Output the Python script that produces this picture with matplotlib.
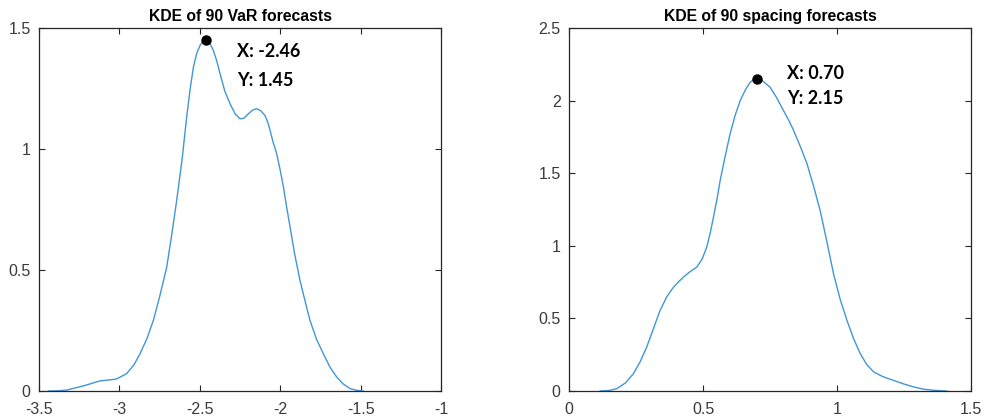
import matplotlib.pyplot as plt
import numpy as np

# values
var_x = [-3.442, -3.38, -3.328, -3.22, -3.12, -3.06, -3.017, -2.955, -2.91, -2.872, -2.83,
         -2.789, -2.75, -2.706, -2.675, -2.644, -2.61, -2.582, -2.56, -2.540, -2.52,
         -2.499, -2.48, -2.46, -2.44, -2.416, -2.395, -2.374, -2.345, -2.312, -2.28,
         -2.25, -2.225, -2.198, -2.17, -2.146, -2.12, -2.095, -2.078, -2.063, -2.045,
         -2.022, -2.0, -1.98, -1.96, -1.939, -1.91, -1.877, -1.845, -1.815, -1.775,
         -1.732, -1.69, -1.649, -1.61, -1.566, -1.525, -1.483]
var_y = [0.0, 0.001, 0.004, 0.022, 0.042, 0.046, 0.050, 0.072, 0.108, 0.154, 0.215,
         0.292, 0.39, 0.512, 0.645, 0.788, 0.96, 1.132, 1.25, 1.339, 1.395,
         1.428, 1.447, 1.45, 1.44, 1.408, 1.365, 1.311, 1.24, 1.187, 1.145,
         1.125, 1.128, 1.146, 1.162, 1.167, 1.158, 1.139, 1.112, 1.077, 1.03,
         0.981, 0.912, 0.843, 0.76, 0.678, 0.565, 0.457, 0.37, 0.292, 0.215,
         0.154, 0.098, 0.058, 0.03, 0.01, 0.003, 0.0]

spc_x = [0.116, 0.15, 0.178, 0.21, 0.240, 0.265, 0.29, 0.315, 0.340, 0.365, 0.39,
         0.41, 0.427, 0.45, 0.477, 0.497, 0.514, 0.527, 0.539, 0.552, 0.564, 0.583,
         0.601, 0.62, 0.639, 0.658, 0.676, 0.69, 0.70, 0.72, 0.750, 0.775, 0.8,
         0.82, 0.838, 0.863, 0.888, 0.912, 0.937, 0.962, 0.987, 1.012, 1.037, 1.062,
         1.087, 1.11, 1.137, 1.17, 1.211, 1.25, 1.286, 1.325, 1.361, 1.41]
spc_y = [0.0, 0.004, 0.016, 0.055, 0.119, 0.2, 0.303, 0.43, 0.556, 0.65, 0.716,
         0.755, 0.785, 0.82, 0.854, 0.91, 0.992, 1.09, 1.198, 1.32, 1.451, 1.62,
         1.772, 1.9, 2.002, 2.075, 2.128, 2.145, 2.15, 2.14, 2.094, 2.02, 1.933,
         1.865, 1.795, 1.685, 1.566, 1.415, 1.244, 1.03, 0.808, 0.63, 0.487, 0.36,
         0.257, 0.185, 0.131, 0.1, 0.073, 0.048, 0.028, 0.012, 0.005, 0.0]

peaks = [(-2.46, 1.45), (0.70, 2.15)]
titles = ['KDE of 90 VaR forecasts', 'KDE of 90 spacing forecasts']
xlims = [(-3.5, -1), (0, 1.5)]
ylims = [(0, 1.5), (0, 2.5)]
xticks = [np.arange(-3.5, -0.9, 0.5), np.arange(0, 1.6, 0.5)]
yticks = [np.arange(0, 1.6, 0.5), np.arange(0, 2.6, 0.5)]
xlabels = [['-3.5', '-3', '-2.5', '-2', '-1.5', '-1'], ['0', '0.5', '1', '1.5']]
ylabels = [['0', '0.5', '1', '1.5'], ['0', '0.5', '1', '1.5', '2', '2.5']]
label_pos = [(-2.27, 1.402, 1.282), (0.815, 2.186, 2.013)]

plt.rcParams['font.family'] = ['Liberation Sans', 'DejaVu Sans']
fig = plt.figure(figsize=(9.86, 4.2), dpi=100)
axes = [fig.add_axes([0.0396, 0.069, 0.4077, 0.864]),
        fig.add_axes([0.5771, 0.069, 0.4077, 0.864])]

curves = [(var_x, var_y), (spc_x, spc_y)]
edge = '#262626'
for i, ax in enumerate(axes):
    xs, ys = curves[i]
    ax.plot(xs, ys, color='#4196d6', lw=1.0, solid_joinstyle='round')
    px, py = peaks[i]
    ax.plot([px], [py], 'o', color='black', ms=6.5)
    tx, ty1, ty2 = label_pos[i]
    ax.text(tx, ty1, f'X: {px:.2f}', fontsize=13, fontweight='bold', family='Lato',
            va='center', ha='left', color='black')
    ax.text(tx, ty2, f'Y: {py:.2f}', fontsize=13, fontweight='bold', family='Lato',
            va='center', ha='left', color='black')
    ax.set_xlim(*xlims[i])
    ax.set_ylim(*ylims[i])
    ax.set_xticks(xticks[i])
    ax.set_xticklabels(xlabels[i])
    ax.set_yticks(yticks[i])
    ax.set_yticklabels(ylabels[i])
    ax.tick_params(direction='in', top=True, right=True, length=4, width=0.8,
                   colors=edge, labelsize=11.5, labelcolor='#3a3a3a')
    ax.tick_params(axis='x', pad=8)
    ax.tick_params(axis='y', pad=6)
    for s in ax.spines.values():
        s.set_color(edge)
        s.set_linewidth(0.9)
    ax.set_title(titles[i], fontsize=11.3, fontweight='bold', color='black', pad=5)

fig.savefig('out.png', dpi=100)
